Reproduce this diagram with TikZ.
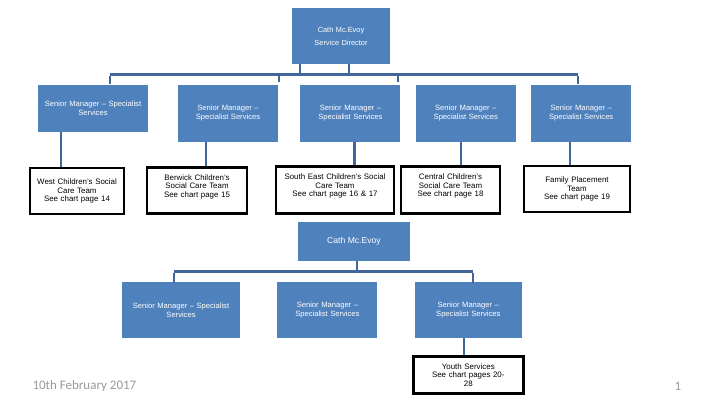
\documentclass[tikz,border=0pt]{standalone}
\usepackage{fontspec}
\setmainfont{Liberation Sans}
\newfontfamily\footfont{Carlito}
\usepackage{tikz}
\usetikzlibrary{positioning}
\definecolor{boxblue}{HTML}{4F81BD}
\definecolor{lineblue}{HTML}{41679A}

\begin{document}
\begin{tikzpicture}[x=1pt,y=-1pt]

	\tikzstyle{blue box} = [rectangle, fill=boxblue, text=white, text centered, inner sep=1pt, font=\fontsize{7.6}{9}\selectfont]
	\tikzstyle{team box} = [rectangle, draw=black, line width=2.6pt, fill=white, text centered, inner sep=1pt, font=\fontsize{7.9}{8.6}\selectfont]
	\tikzstyle{link} = [draw=lineblue, line width=2.8pt]
	\useasboundingbox (0,0) rectangle (720,405);

	\node[blue box, minimum width=98pt, minimum height=56pt, text width=94pt, font=\fontsize{7.4}{13}\selectfont] (dir) at (341,36) {Cath Mc.Evoy\\Service Director};

	\node[blue box, minimum width=110pt, minimum height=47pt, text width=108pt] (sm1) at (93,108.5) {Senior Manager -- Specialist\\Services};
	\node[blue box, minimum width=100pt, minimum height=57pt, text width=98pt] (sm2) at (228,113.5) {Senior Manager --\\Specialist Services};
	\node[blue box, minimum width=100pt, minimum height=57pt, text width=98pt, right=22pt of sm2] (sm3) {Senior Manager --\\Specialist Services};
	\node[blue box, minimum width=100pt, minimum height=57pt, text width=98pt, right=15pt of sm3] (sm4) {Senior Manager --\\Specialist Services};
	\node[blue box, minimum width=100pt, minimum height=57pt, text width=98pt, right=15pt of sm4] (sm5) {Senior Manager --\\Specialist Services};

	\node[team box, minimum width=94pt, minimum height=46pt, text width=92pt] (west) at (77,191) {West Children's Social\\Care Team\\See chart page 14};
	\node[team box, minimum width=100pt, minimum height=46pt, text width=98pt, anchor=north] (berwick) at (197,166) {Berwick Children's\\Social Care Team\\See chart page 15\\\mbox{}};
	\node[team box, minimum width=118pt, minimum height=47pt, text width=116pt, anchor=north] (southeast) at (335,165) {South East Children's Social\\Care Team\\See chart page 16 \& 17\\\mbox{}};
	\node[team box, minimum width=99pt, minimum height=47pt, text width=97pt, anchor=north] (central) at (450.5,165) {Central Children's\\Social Care Team\\See chart page 18\\\mbox{}};
	\node[team box, minimum width=106pt, minimum height=46pt, text width=104pt] (family) at (577,189) {Family Placement\\Team\\See chart page 19};

	\coordinate (bus1) at (110,74.5);
	\coordinate (bus2) at (578,74.5);
	\draw[link] (bus1) -- (bus2);
	\draw[link] ([xshift=-41pt]dir.south) -- ([xshift=-41pt]dir.south |- bus1);
	\draw[link] ([xshift=8pt]dir.south) -- ([xshift=8pt]dir.south |- bus1);
	\draw[link] ([yshift=-1.4pt]bus1) -- ++(0,8);
	\draw[link] (bus1 -| 279,0) -- ++(0,7);
	\draw[link] (bus1 -| 398,0) -- ++(0,7);
	\draw[link] ([yshift=-1.4pt]bus2) -- ++(0,8);

	\draw[link, line width=2.4pt] ([xshift=-32pt]sm1.south) -- ([xshift=-32pt]sm1.south |- west.north);
	\draw[link, line width=2.4pt] ([xshift=-22pt]sm2.south) -- ([xshift=-22pt]sm2.south |- berwick.north);
	\draw[link, line width=2.4pt] ([xshift=4pt]sm3.south) -- ([xshift=4pt]sm3.south |- southeast.north);
	\draw[link, line width=2.4pt] ([xshift=-5pt]sm4.south) -- ([xshift=-5pt]sm4.south |- central.north);
	\draw[link, line width=2.4pt] ([xshift=-11pt]sm5.south) -- ([xshift=-11pt]sm5.south |- family.north);

	\node[blue box, minimum width=112pt, minimum height=39pt, font=\fontsize{8.6}{10}\selectfont] (cath) at (354,241.5) {Cath Mc.Evoy};

	\node[blue box, minimum width=118pt, minimum height=56pt, text width=116pt] (sr1) at (181,310) {Senior Manager -- Specialist\\Services};
	\node[blue box, minimum width=100pt, minimum height=56pt, text width=98pt, right=37pt of sr1] (sr2) {Senior Manager --\\Specialist Services};
	\node[blue box, minimum width=107pt, minimum height=56pt, text width=105pt, right=37pt of sr2] (sr3) {Senior Manager --\\Specialist Services};

	\node[team box, minimum width=110pt, minimum height=37pt, text width=108pt, below=17pt of sr3] (youth) {Youth Services\\See chart pages 20-\\28};

	\coordinate (low1) at (174,271.5);
	\coordinate (low2) at (473,271.5);
	\draw[link] (low1) -- (low2);
	\draw[link] ([xshift=3pt]cath.south) -- ([xshift=3pt]cath.south |- low1);
	\draw[link] ([yshift=-1.4pt]low1) -- ++(0,10);
	\draw[link] ([yshift=-1.4pt]low2) -- ++(0,10);
	\draw[link, line width=2.4pt] ([xshift=-4.5pt]sr3.south) -- ([xshift=-4.5pt]sr3.south |- youth.north);

	\node[font=\footfont\fontsize{13}{15}\selectfont, text=black!40, anchor=west] (date) at (29,386) {10th February 2017};
	\node[font=\footfont\fontsize{13}{15}\selectfont, text=black!40] (page) at (678,386) {1};

\end{tikzpicture}
\end{document}
